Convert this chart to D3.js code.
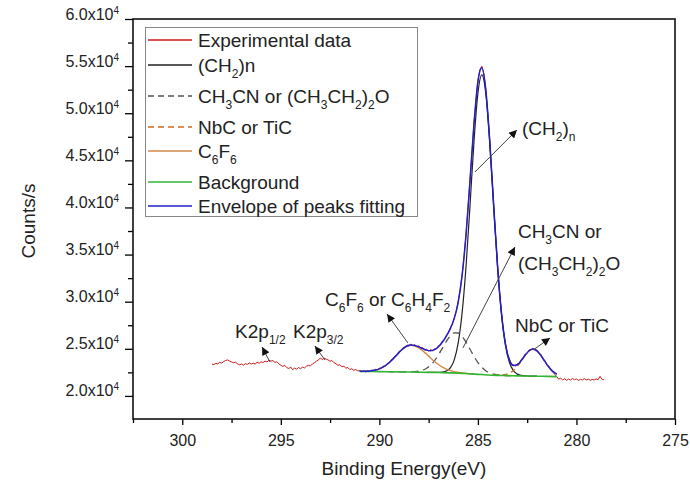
<!DOCTYPE html>
<html>
<head>
<meta charset="utf-8">
<script src="https://cdn.jsdelivr.net/npm/d3@7"></script>
<style>
  body { margin: 0; background: #fff; }
  svg { font-family: "Liberation Sans", Arial, sans-serif; }
</style>
</head>
<body>
<div id="chart"></div>
<script>
// ---- data ----
// experimental counts, from 298.5 eV down in 0.1 eV steps
var expStart = 298.5, expStep = 0.1;
var expCounts = [
  23380, 23320, 23450, 23400, 23560, 23480, 23650, 23760, 23820, 23700,
  23610, 23520, 23580, 23410, 23300, 23390, 23260, 23420, 23350, 23500,
  23380, 23470, 23390, 23560, 23470, 23620, 23540, 23700, 23610, 23780,
  23690, 23750, 23560, 23620, 23400, 23250, 23130, 23240, 23010, 22900,
  23060, 22780, 22950, 22840, 23020, 22880, 23050, 22970, 23150, 23240,
  23180, 23390, 23520, 23680, 23800, 24020, 23870, 24000, 23900, 23820,
  23680, 23750, 23520, 23430, 23250, 23310, 23090, 23150, 22950, 23010,
  22800, 22880, 22720, 22800, 22650,
  22690, 22560, 22650, 22540, 22700, 22590, 22740, 22630, 22820, 22760,
  22950, 22900, 23180, 23120, 23450, 23480, 23850, 23860, 24260, 24320,
  24730, 24750, 25120, 25080, 25410, 25260, 25520, 25300, 25450, 25200,
  25320, 25040, 25130, 24850, 24960, 24740, 24920, 24760, 25020, 24980,
  25340, 25380, 25820, 25950, 26450, 26680, 27220, 27600, 28300, 28950,
  30020, 31250, 32880, 34850, 37230, 39950, 42920, 45830, 48900, 51260,
  53430, 54650, 54980, 54200, 52560, 50040, 47150, 43680, 40260, 36850,
  33740, 30960, 28760, 26850, 25560, 24420, 23920, 23380, 23320, 23150,
  23420, 23430, 23870, 23980, 24440, 24520, 24900, 24840, 25080, 24820,
  24880, 24480, 24390, 23890, 23760, 23250, 23160, 22700, 22560, 22280,
  22050,
  21780, 21880, 21700, 21820, 21650, 21790, 21680, 21850, 21720, 21800,
  21640, 21760, 21690, 21830, 21700, 21780, 21660, 21740, 21690, 21800,
  21720, 22080, 21760, 21700
];

// fitted curves, 0.2 eV steps
var fitStep = 0.2;
var envStart = 291.0;
var envelope = [
  22607, 22613, 22630, 22670, 22744, 22874, 23073, 23360, 23733, 24169,
  24620, 25018, 25295, 25401, 25355, 25209, 25019, 24857, 24801, 24914,
  25225, 25718, 26354, 27145, 28228, 29957, 32819, 37175, 42869, 48849,
  53369, 54829, 52495, 47082, 40208, 33689, 28687, 25480, 23815, 23225,
  23307, 23761, 24332, 24795, 24968, 24776, 24286, 23658, 23062, 22606,
  22316
];
var ch2Start = 287.6;
var ch2 = [
  22504, 22497, 22491, 22494, 22523, 22637, 22981, 23828, 25620, 28852,
  33820, 40250, 46963, 52118, 54062, 52062, 46857, 40100, 33628, 28626,
  25360, 23546, 22677, 22311, 22177, 22128, 22109, 22098, 22090
];
var ch3cnStart = 289.6;
var ch3cn = [
  22568, 22562, 22556, 22551, 22547, 22545, 22551, 22574, 22628, 22737,
  22937, 23263, 23739, 24361, 25076, 25788, 26367, 26688, 26676, 26319,
  25704, 24954, 24199, 23541, 23029, 22667, 22437, 22304, 22228, 22189,
  22167, 22153, 22140
];
var nbcStart = 284.2;
var nbc = [
  22200, 22193, 22212, 22273, 22416, 22688, 23126, 23706, 24318, 24792,
  24968, 24776, 24286, 23658, 23062, 22606, 22316
];
var c6f6Start = 291.0;
var c6f6 = [
  22607, 22613, 22630, 22670, 22744, 22874, 23073, 23360, 23733, 24169,
  24619, 25015, 25288, 25382, 25307, 25101, 24794, 24424, 24033, 23660,
  23330, 23055, 22841, 22685, 22576, 22501, 22440, 22395, 22357, 22323
];
var bgStart = 291.0, bgStep = 0.5;
var background = [
  22600, 22590, 22580, 22565, 22550, 22535, 22520, 22500, 22480, 22450,
  22420, 22360, 22290, 22220, 22180, 22155, 22130, 22110, 22090, 22070,
  22050
];

var xTicks = [300, 295, 290, 285, 280, 275];
var yTicks = [20000, 25000, 30000, 35000, 40000, 45000, 50000, 55000, 60000];

// ---- drawing ----
var width = 690, height = 482;
var plot = {left: 133, right: 675, top: 19, bottom: 419};

var x = d3.scaleLinear().domain([302.5, 275]).range([plot.left, plot.right]);
var y = d3.scaleLinear().domain([17550, 60000]).range([plot.bottom, plot.top]);

var svg = d3.select("#chart").append("svg")
    .attr("width", width)
    .attr("height", height);

var defs = svg.append("defs");
defs.append("marker")
    .attr("id", "arrow")
    .attr("viewBox", "0 0 10 10")
    .attr("refX", 10).attr("refY", 5)
    .attr("markerWidth", 10).attr("markerHeight", 8)
    .attr("markerUnits", "userSpaceOnUse")
    .attr("orient", "auto")
  .append("path")
    .attr("d", "M0,0L10,5L0,10z")
    .attr("fill", "#111");
defs.append("clipPath").attr("id", "clip")
  .append("rect")
    .attr("x", plot.left).attr("y", plot.top)
    .attr("width", plot.right - plot.left).attr("height", plot.bottom - plot.top);

// turn start + step + values into points
function series(start, step, values) {
    return values.map(function(v, i) { return [start - step * i, v]; });
}

// text with sub/superscripts; parts = [[string, "sub"|"sup"|undefined], ...]
function richText(sel, parts, size) {
    var off = 0;
    parts.forEach(function(p) {
        var target = p[1] === "sub" ? Math.round(size * 0.3) : p[1] === "sup" ? -Math.round(size * 0.4) : 0;
        var ts = sel.append("tspan").attr("dy", target - off).text(p[0]);
        if (p[1]) ts.attr("font-size", Math.round(size * 0.65));
        off = target;
    });
}

// axes
var minorY = d3.range(22500, 60000, 5000);
var minorX = d3.range(302.5, 274, -5);

svg.append("g")
    .attr("transform", "translate(" + plot.left + ",0)")
    .call(d3.axisLeft(y).tickValues(minorY).tickSize(5).tickSizeOuter(0).tickFormat(""))
    .call(function(g) { g.select(".domain").remove(); })
    .selectAll("line").attr("stroke-width", 1.3);
svg.append("g")
    .attr("transform", "translate(0," + plot.bottom + ")")
    .call(d3.axisBottom(x).tickValues(minorX).tickSize(4).tickSizeOuter(0).tickFormat(""))
    .call(function(g) { g.select(".domain").remove(); })
    .selectAll("line").attr("stroke-width", 1.3);

var yAxis = svg.append("g")
    .attr("transform", "translate(" + plot.left + ",0)")
    .call(d3.axisLeft(y).tickValues(yTicks).tickSize(8).tickSizeOuter(0).tickPadding(6).tickFormat(""));
yAxis.select(".domain").remove();
yAxis.selectAll(".tick line").attr("stroke-width", 1.3);
yAxis.selectAll(".tick text")
    .attr("font-size", 16)
    .attr("fill", "#222")
    .attr("dy", "0.36em")
    .each(function(d) {
        richText(d3.select(this), [[(d / 10000).toFixed(1) + "x10"], ["4", "sup"]], 16);
    });

var xAxis = svg.append("g")
    .attr("transform", "translate(0," + plot.bottom + ")")
    .call(d3.axisBottom(x).tickValues(xTicks).tickSize(6).tickSizeOuter(0).tickPadding(10));
xAxis.select(".domain").remove();
xAxis.selectAll(".tick line").attr("stroke-width", 1.3);
xAxis.selectAll(".tick text").attr("font-size", 16).attr("fill", "#222");

// frame
svg.append("rect")
    .attr("x", plot.left).attr("y", plot.top)
    .attr("width", plot.right - plot.left).attr("height", plot.bottom - plot.top)
    .attr("fill", "none").attr("stroke", "#111").attr("stroke-width", 1.6);

// axis titles
svg.append("text")
    .attr("x", (plot.left + plot.right) / 2)
    .attr("y", 475)
    .attr("text-anchor", "middle")
    .attr("font-size", 19)
    .attr("fill", "#222")
    .text("Binding Energy(eV)");
svg.append("text")
    .attr("transform", "translate(35,221) rotate(-90)")
    .attr("text-anchor", "middle")
    .attr("font-size", 19)
    .attr("fill", "#222")
    .text("Counts/s");

// curves
var line = d3.line()
    .x(function(d) { return x(d[0]); })
    .y(function(d) { return y(d[1]); });
var smooth = d3.line()
    .curve(d3.curveMonotoneX)
    .x(function(d) { return x(d[0]); })
    .y(function(d) { return y(d[1]); });

var curves = svg.append("g").attr("clip-path", "url(#clip)").attr("fill", "none");

var styles = {
    exp:  {color: "#cc1a1a", width: 1,   dash: null},
    ch2:  {color: "#222222", width: 1.2, dash: null},
    cn:   {color: "#555555", width: 1.3, dash: "7,5"},
    nbc:  {color: "#d2691e", width: 1.3, dash: "5,4"},
    c6:   {color: "#d4894a", width: 1.4, dash: null},
    bg:   {color: "#33b533", width: 1.6, dash: null},
    env:  {color: "#2020c8", width: 1.5, dash: null}
};

function draw(points, st, gen) {
    curves.append("path")
        .datum(points)
        .attr("d", gen)
        .attr("stroke", st.color)
        .attr("stroke-width", st.width)
        .attr("stroke-dasharray", st.dash);
}

draw(series(expStart, expStep, expCounts), styles.exp, line);
draw(series(ch2Start, fitStep, ch2), styles.ch2, smooth);
draw(series(ch3cnStart, fitStep, ch3cn), styles.cn, smooth);
draw(series(nbcStart, fitStep, nbc), styles.nbc, smooth);
draw(series(c6f6Start, fitStep, c6f6), styles.c6, smooth);
draw(series(bgStart, bgStep, background), styles.bg, smooth);
draw(series(envStart, fitStep, envelope), styles.env, smooth);

// legend
var legendItems = [
    {parts: [["Experimental data"]], st: styles.exp},
    {parts: [["(CH"], ["2", "sub"], [")n"]], st: styles.ch2},
    {parts: [["CH"], ["3", "sub"], ["CN or (CH"], ["3", "sub"], ["CH"], ["2", "sub"], [")"], ["2", "sub"], ["O"]], st: styles.cn},
    {parts: [["NbC or TiC"]], st: styles.nbc},
    {parts: [["C"], ["6", "sub"], ["F"], ["6", "sub"]], st: styles.c6},
    {parts: [["Background"]], st: styles.bg},
    {parts: [["Envelope of peaks fitting"]], st: styles.env}
];
var rowY = [40, 65, 96, 127, 151, 182, 206];

var legend = svg.append("g");
legend.append("rect")
    .attr("x", 145.5).attr("y", 27.5)
    .attr("width", 272).attr("height", 189)
    .attr("fill", "#fff").attr("stroke", "#888").attr("stroke-width", 1);
var rows = legend.selectAll(".legend")
    .data(legendItems)
    .enter().append("g")
    .attr("class", "legend")
    .attr("transform", function(d, i) { return "translate(0," + rowY[i] + ")"; });
rows.append("line")
    .attr("x1", 148).attr("x2", 192)
    .attr("stroke", function(d) { return d.st.color; })
    .attr("stroke-width", 1.5)
    .attr("stroke-dasharray", function(d) { return d.st.dash ? "6,4" : null; });
rows.append("text")
    .attr("x", 198).attr("y", 6.5)
    .attr("font-size", 19)
    .attr("fill", "#222")
    .each(function(d) { richText(d3.select(this), d.parts, 19); });

// annotations: label position and arrow tail -> head, in data units
var notes = [
    {parts: [["(CH"], ["2", "sub"], [")"], ["n", "sub"]], at: [282.76, 47690], from: [285.15, 43763], to: [283.02, 48220]},
    {parts: [["CH"], ["3", "sub"], ["CN or"]], at: [282.97, 36758], from: [285.76, 25085], to: [283.12, 35804]},
    {parts: [["(CH"], ["3", "sub"], ["CH"], ["2", "sub"], [")"], ["2", "sub"], ["O"]], at: [282.97, 33363]},
    {parts: [["C"], ["6", "sub"], ["F"], ["6", "sub"], [" or C"], ["6", "sub"], ["H"], ["4", "sub"], ["F"], ["2", "sub"]], at: [292.76, 29542], from: [288.55, 25616], to: [289.61, 28693]},
    {parts: [["NbC or TiC"]], at: [283.12, 26783], from: [282.2, 24873], to: [281.34, 26146]},
    {parts: [["K2p"], ["1/2", "sub"]], at: [297.32, 26146], from: [295.55, 23599], to: [295.95, 25191]},
    {parts: [["K2p"], ["3/2", "sub"]], at: [294.38, 26146], from: [292.76, 23811], to: [293.27, 25297]}
];

var ann = svg.append("g");
notes.forEach(function(n) {
    if (n.from) {
        ann.append("line")
            .attr("x1", x(n.from[0])).attr("y1", y(n.from[1]))
            .attr("x2", x(n.to[0])).attr("y2", y(n.to[1]))
            .attr("stroke", "#444").attr("stroke-width", 1)
            .attr("marker-end", "url(#arrow)");
    }
    var t = ann.append("text")
        .attr("x", x(n.at[0])).attr("y", y(n.at[1]))
        .attr("font-size", 19)
        .attr("fill", "#222");
    richText(t, n.parts, 19);
});
</script>
</body>
</html>
